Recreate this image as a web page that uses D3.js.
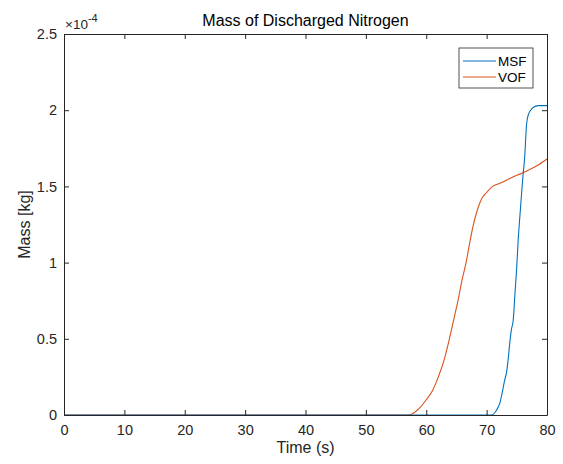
<!DOCTYPE html>
<html>
<head>
<meta charset="utf-8">
<script src="https://cdn.jsdelivr.net/npm/d3@7"></script>
<style>
  body { margin: 0; background: #fff; }
  svg { font-family: "Liberation Sans", Arial, sans-serif; }
</style>
</head>
<body>
<div id="chart"></div>
<script>
// values in units of 1e-4 kg
const msfTime = [0, 70.8, 71.6, 72.2, 72.6, 73.0, 73.3, 73.5, 73.8, 74.1, 74.4, 74.7, 75.0, 75.2, 75.5, 75.8, 76.0, 76.3, 76.6, 76.9, 77.5, 78.5, 80];
const msfMass = [0, 0, 0.03, 0.08, 0.15, 0.23, 0.28, 0.34, 0.46, 0.56, 0.62, 0.80, 0.98, 1.13, 1.30, 1.46, 1.56, 1.69, 1.90, 1.97, 2.01, 2.03, 2.03];

const vofTime = [0, 57.0, 58.0, 58.9, 60.0, 61.1, 62.0, 62.8, 63.6, 64.4, 65.2, 65.9, 66.7, 67.2, 67.7, 68.5, 69.2, 70.0, 71.0, 72.2, 74.0, 76.0, 78.3, 80];
const vofMass = [0, 0, 0.015, 0.046, 0.10, 0.164, 0.25, 0.34, 0.46, 0.60, 0.74, 0.88, 1.02, 1.13, 1.23, 1.35, 1.42, 1.46, 1.50, 1.52, 1.555, 1.59, 1.635, 1.68];

const xTicks = [0, 10, 20, 30, 40, 50, 60, 70, 80];
const yTicks = [0, 0.5, 1, 1.5, 2, 2.5];
const seriesNames = ["MSF", "VOF"];
const seriesColors = ["#0072BD", "#D95319"];

const width = 563, height = 464;
const margin = { top: 34, right: 16, bottom: 49, left: 64 };

const svg = d3.select("#chart").append("svg")
  .attr("width", width)
  .attr("height", height);

const x = d3.scaleLinear().domain([0, 80]).range([margin.left, width - margin.right]);
const y = d3.scaleLinear().domain([0, 2.5]).range([height - margin.bottom, margin.top]);

const axisColor = "#262626";

// data lines
const line = d3.line().curve(d3.curveMonotoneX).x(d => x(d[0])).y(d => y(d[1]));
const series = [
  d3.zip(msfTime, msfMass),
  d3.zip(vofTime, vofMass)
];
// VOF first so MSF sits on top along zero
[1, 0].forEach(i => {
  svg.append("path")
    .datum(series[i])
    .attr("fill", "none")
    .attr("stroke", seriesColors[i])
    .attr("stroke-width", 1.1)
    .attr("stroke-linejoin", "round")
    .attr("d", line);
});

// axes, ticks inward on all sides
const tickLen = 5;
svg.append("g")
  .attr("transform", `translate(0,${y(0)})`)
  .call(d3.axisBottom(x).tickValues(xTicks).tickSize(-tickLen).tickPadding(10).tickSizeOuter(0))
  .call(g => g.selectAll("text").attr("font-size", 14.5).attr("fill", axisColor));

svg.append("g")
  .attr("transform", `translate(0,${y(2.5)})`)
  .call(d3.axisTop(x).tickValues(xTicks).tickSize(-tickLen).tickFormat("").tickSizeOuter(0));

svg.append("g")
  .attr("transform", `translate(${x(0)},0)`)
  .call(d3.axisLeft(y).tickValues(yTicks).tickSize(-tickLen).tickPadding(7).tickSizeOuter(0).tickFormat(d => d))
  .call(g => g.selectAll("text").attr("font-size", 14.5).attr("fill", axisColor));

svg.append("g")
  .attr("transform", `translate(${x(80)},0)`)
  .call(d3.axisRight(y).tickValues(yTicks).tickSize(-tickLen).tickFormat("").tickSizeOuter(0));

svg.selectAll(".domain").attr("stroke", axisColor);
svg.selectAll(".tick line").attr("stroke", axisColor);

// exponent label
const expo = svg.append("text")
  .attr("x", x(0) + 1)
  .attr("y", margin.top - 5)
  .attr("font-size", 13.5)
  .attr("fill", axisColor);
expo.append("tspan").text("\u00d710");
expo.append("tspan").attr("dy", -7).attr("font-size", 11).text("-4");

// title
svg.append("text")
  .attr("x", (x(0) + x(80)) / 2)
  .attr("y", 26)
  .attr("text-anchor", "middle")
  .attr("font-size", 16)
  .attr("fill", "#000")
  .text("Mass of Discharged Nitrogen");

// axis labels
svg.append("text")
  .attr("x", (x(0) + x(80)) / 2)
  .attr("y", 453)
  .attr("text-anchor", "middle")
  .attr("font-size", 16)
  .attr("fill", axisColor)
  .text("Time (s)");

svg.append("text")
  .attr("transform", `translate(30,${(y(0) + y(2.5)) / 2}) rotate(-90)`)
  .attr("text-anchor", "middle")
  .attr("font-size", 16)
  .attr("fill", axisColor)
  .text("Mass [kg]");

// legend
const legend = svg.append("g").attr("transform", "translate(459,48)");
legend.append("rect")
  .attr("width", 74)
  .attr("height", 40)
  .attr("fill", "#fff")
  .attr("stroke", axisColor)
  .attr("stroke-width", 0.8);
seriesNames.forEach((name, i) => {
  const row = legend.append("g").attr("transform", `translate(0,${13 + i * 16})`);
  row.append("line")
    .attr("x1", 4).attr("x2", 37)
    .attr("stroke", seriesColors[i])
    .attr("stroke-width", 1.1);
  row.append("text")
    .attr("x", 39)
    .attr("dy", "0.35em")
    .attr("font-size", 13.5)
    .attr("fill", "#000")
    .text(name);
});
</script>
</body>
</html>
